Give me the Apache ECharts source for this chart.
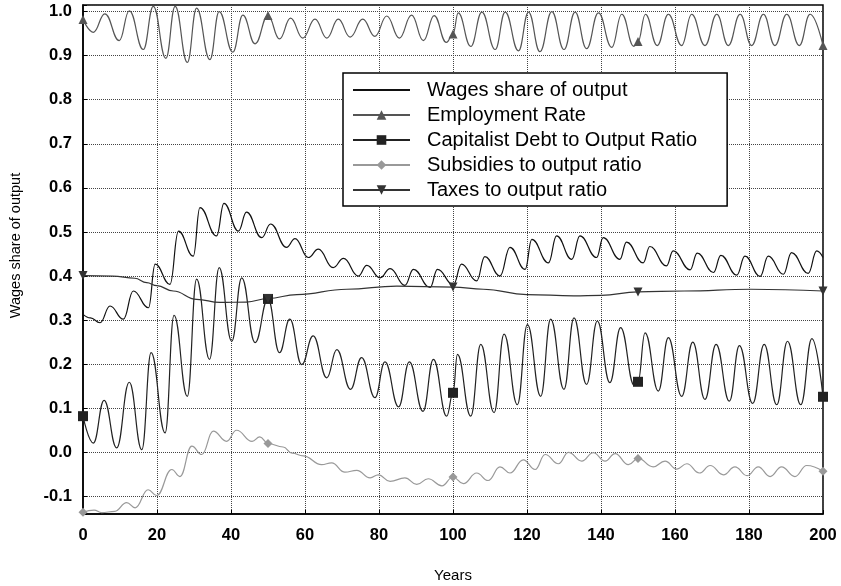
<!DOCTYPE html>
<html>
<head>
<meta charset="utf-8">
<script src="https://cdn.jsdelivr.net/npm/echarts@6/dist/echarts.min.js"></script>
<style>html,body{margin:0;padding:0;background:#fff}#c{width:841px;height:586px}</style>
</head>
<body>
<div id="c"></div>
<script>
// ---- data (years, value) ----
const markerYears = [0, 50, 100, 150, 200];
const xTicks = [0, 20, 40, 60, 80, 100, 120, 140, 160, 180, 200];
const yTicks = [-0.1, 0.0, 0.1, 0.2, 0.3, 0.4, 0.5, 0.6, 0.7, 0.8, 0.9, 1.0];

const wagesShare = [[0,0.313],[2,0.305],[4.6,0.294],[7.3,0.332],[10.9,0.302],[13.6,0.366],[17.7,0.328],[19.5,0.427],[23.5,0.381],[25.8,0.502],[29.8,0.445],[31.6,0.555],[36.1,0.491],[38.1,0.565],[42.0,0.502],[44.2,0.545],[48.3,0.487],[50.7,0.518],[55.0,0.465],[57.3,0.485],[60.9,0.442],[63.6,0.461],[67.6,0.419],[70.4,0.44],[74.4,0.4],[76.7,0.424],[80.3,0.396],[83.0,0.417],[87.0,0.379],[89.3,0.415],[93.8,0.374],[95.8,0.415],[100.1,0.38],[102.3,0.427],[106.4,0.389],[108.6,0.444],[112.7,0.4],[115.4,0.465],[119.5,0.415],[121.3,0.483],[125.8,0.43],[128.0,0.491],[132.1,0.438],[134.3,0.491],[138.8,0.442],[140.6,0.487],[145.1,0.438],[146.9,0.477],[151.4,0.43],[153.2,0.467],[157.7,0.423],[159.5,0.457],[164.1,0.414],[166.0,0.452],[170.4,0.408],[172.4,0.447],[176.7,0.402],[178.9,0.445],[183.0,0.399],[185.2,0.445],[189.3,0.404],[191.5,0.453],[196.0,0.406],[198.3,0.457],[200,0.442]];

const employmentRate = [[0,0.982],[2.8,0.953],[5.9,0.995],[9.8,0.934],[12.5,1.002],[16.3,0.914],[19.0,1.012],[22.4,0.894],[24.9,1.012],[28.2,0.885],[30.7,1.008],[34.3,0.891],[36.8,1.0],[40.5,0.908],[43.2,0.992],[46.5,0.927],[50,0.991],[53.1,0.938],[56.1,0.985],[59.4,0.94],[62.7,0.983],[65.9,0.94],[69.0,0.983],[72.2,0.942],[75.6,0.983],[78.9,0.944],[82.1,0.99],[85.5,0.94],[88.8,0.992],[92.0,0.934],[94.9,0.991],[98.2,0.93],[100,0.949],[101.4,0.997],[104.8,0.921],[107.8,0.999],[111.4,0.914],[114.1,0.999],[117.7,0.911],[120.4,0.999],[123.5,0.909],[126.7,1.0],[130.0,0.914],[133.0,0.999],[136.1,0.916],[139.3,0.997],[142.9,0.919],[145.6,0.994],[148.9,0.921],[150,0.932],[152.0,0.994],[155.2,0.923],[158.2,0.994],[161.8,0.923],[164.5,0.994],[168.1,0.923],[171.3,0.994],[174.4,0.923],[177.6,0.994],[180.7,0.923],[183.9,0.994],[187.0,0.923],[190.2,0.994],[193.6,0.923],[196.5,0.994],[200,0.923]];

const debtRatio = [[0,0.082],[2.8,0.021],[5.7,0.118],[9.1,0.01],[12.5,0.159],[15.9,0.006],[18.4,0.226],[22.2,0.044],[24.6,0.311],[28.2,0.127],[30.7,0.393],[34.2,0.211],[36.8,0.419],[40.2,0.252],[42.9,0.396],[46.5,0.249],[50,0.348],[53.1,0.226],[55.9,0.302],[59.1,0.199],[62.2,0.264],[65.9,0.169],[68.6,0.233],[72.3,0.143],[75.3,0.215],[78.9,0.124],[81.6,0.205],[85.3,0.103],[88.2,0.205],[91.9,0.093],[94.7,0.211],[98.3,0.082],[100,0.135],[101.2,0.222],[104.8,0.082],[107.5,0.245],[111.1,0.09],[113.8,0.268],[117.4,0.108],[120.1,0.29],[123.7,0.127],[126.4,0.302],[130,0.143],[132.7,0.305],[136.1,0.154],[139,0.298],[142.4,0.158],[145.3,0.283],[149,0.152],[150,0.16],[151.9,0.271],[155.5,0.139],[158.2,0.26],[161.8,0.127],[164.8,0.25],[168.1,0.12],[171.1,0.245],[174.7,0.116],[177.4,0.242],[181,0.111],[184.1,0.245],[187.5,0.108],[190.4,0.252],[194,0.108],[197,0.258],[200,0.126]];

const subsidiesRatio = [[0,-0.136],[3,-0.131],[5,-0.137],[8.6,-0.134],[11.8,-0.114],[14.1,-0.126],[17.6,-0.085],[19.9,-0.098],[24,-0.039],[26.2,-0.055],[29.4,0.014],[32.1,-0.005],[35.2,0.048],[38.8,0.025],[41.5,0.05],[45.7,0.025],[47.8,0.035],[50,0.02],[54.1,0.012],[56.5,-0.002],[59.5,-0.008],[64.5,-0.028],[67.2,-0.024],[70.8,-0.045],[74,-0.041],[77.6,-0.058],[79.8,-0.051],[83,-0.066],[87,-0.058],[90.2,-0.073],[93.3,-0.06],[97,-0.076],[100,-0.056],[102.8,-0.071],[106.4,-0.047],[109.5,-0.064],[112.7,-0.033],[115.4,-0.047],[119,-0.017],[122.2,-0.039],[124.9,-0.005],[128.5,-0.026],[131.2,0.0],[134.8,-0.02],[137.9,-0.001],[141.1,-0.02],[143.8,-0.003],[147.4,-0.028],[150,-0.014],[154.1,-0.033],[157.3,-0.02],[160.5,-0.038],[163.2,-0.026],[166.6,-0.047],[169.5,-0.03],[173.1,-0.051],[176.2,-0.033],[179.5,-0.053],[182.5,-0.033],[185.7,-0.055],[188.8,-0.033],[192.4,-0.055],[195.6,-0.03],[200,-0.043]];

const taxesRatio = [[0,0.401],[8,0.4],[14,0.395],[17.2,0.385],[20,0.378],[24.4,0.366],[30.7,0.347],[37,0.34],[44.2,0.341],[50,0.349],[57.8,0.358],[71.3,0.37],[84.8,0.377],[100,0.375],[108.2,0.37],[120,0.358],[132.6,0.355],[140,0.356],[150,0.364],[162.5,0.366],[180.5,0.37],[200,0.366]];

const seriesNames = ['Wages share of output','Employment Rate','Capitalist Debt to Output Ratio','Subsidies to output ratio','Taxes to output ratio'];

function withMarkers(arr, size) {
  return arr.map(p => markerYears.indexOf(p[0]) >= 0 ? {value: p, symbolSize: size} : {value: p});
}

const FONT = '"Liberation Sans", Arial, sans-serif';
const chart = echarts.init(document.getElementById('c'), null, {renderer: 'canvas'});

function lineSeries(name, data, color, symbol, size, extra) {
  return Object.assign({
    name: name, type: 'line', data: withMarkers(data, size),
    smooth: 0.45, smoothMonotone: 'x',
    symbol: symbol, symbolSize: 0, showSymbol: true, showAllSymbol: true,
    lineStyle: {color: color, width: 1.2},
    itemStyle: {color: color},
    emphasis: {disabled: true}, animation: false, z: 3
  }, extra || {});
}

chart.setOption({
  animation: false,
  backgroundColor: '#fff',
  grid: {left: 83, right: 18, top: 5, bottom: 72, show: true, borderColor: '#000', borderWidth: 1.5,
         containLabel: false, outerBoundsMode: 'none'},
  xAxis: {
    type: 'value', min: xTicks[0], max: xTicks[xTicks.length - 1], interval: 20,
    name: 'Years', nameLocation: 'middle', nameGap: 54,
    nameTextStyle: {fontFamily: FONT, fontSize: 15, color: '#000'},
    axisLine: {show: true, onZero: false, lineStyle: {color: '#000', width: 1.5}},
    axisTick: {show: true, inside: true, length: 4, lineStyle: {color: '#000'}},
    axisLabel: {fontFamily: FONT, fontSize: 16.5, fontWeight: 'bold', color: '#000', margin: 13},
    splitLine: {show: true, lineStyle: {color: '#444', width: 1, type: 'dotted'}}
  },
  yAxis: {
    type: 'value', min: -0.14, max: 1.015, splitNumber: 12,
    name: 'Wages share of output', nameLocation: 'middle', nameGap: 60,
    nameTextStyle: {fontFamily: FONT, fontSize: 14.5, color: '#000', padding: [0, 0, 0, 28]},
    axisLine: {show: true, onZero: false, lineStyle: {color: '#000', width: 1.5}},
    axisTick: {show: true, inside: true, length: 4, lineStyle: {color: '#000'}},
    axisLabel: {
      fontFamily: FONT, fontSize: 16.5, fontWeight: 'bold', color: '#000', margin: 11,
      formatter: function (v) {
        for (const t of yTicks) { if (Math.abs(v - t) < 1e-6) return t.toFixed(1); }
        return '';
      }
    },
    splitLine: {show: true, lineStyle: {color: '#444', width: 1, type: 'dotted'}}
  },
  legend: {
    orient: 'vertical', left: 343, top: 73,
    padding: [7, 30, 6, 9], itemGap: 5, itemWidth: 57, itemHeight: 12,
    backgroundColor: '#fff', borderColor: '#000', borderWidth: 1.5,
    textStyle: {fontFamily: FONT, fontSize: 20, color: '#000', lineHeight: 20, padding: [0, 0, 0, 12]},
    data: [
      {name: seriesNames[0], itemStyle: {opacity: 0}},
      seriesNames[1], seriesNames[2], seriesNames[3], seriesNames[4]
    ],
    selectedMode: false
  },
  series: [
    lineSeries(seriesNames[0], wagesShare, '#111', 'circle', 0),
    lineSeries(seriesNames[1], employmentRate, '#555', 'triangle', 9),
    lineSeries(seriesNames[2], debtRatio, '#222', 'rect', 10),
    lineSeries(seriesNames[3], subsidiesRatio, '#999', 'diamond', 9),
    lineSeries(seriesNames[4], taxesRatio, '#333', 'triangle', 9, {symbolRotate: 180})
  ]
});
</script>
</body>
</html>
